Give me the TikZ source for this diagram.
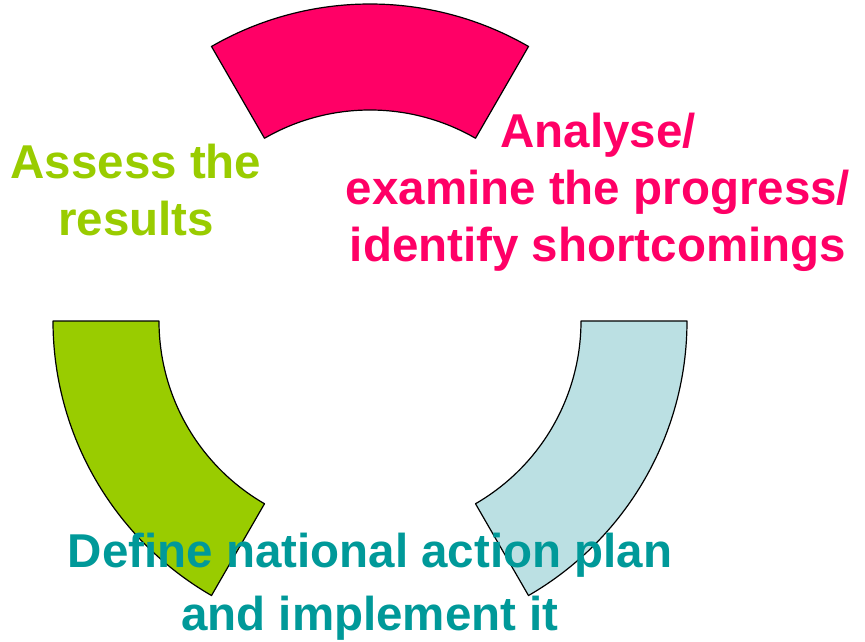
\documentclass[tikz,border=0pt]{standalone}
\usepackage{fontspec}
\setmainfont{Liberation Sans}
\usetikzlibrary{calc}
\definecolor{pinkfill}{HTML}{FF0066}
\definecolor{greenfill}{HTML}{99CC00}
\definecolor{bluefill}{HTML}{BBE0E3}
\definecolor{tealtext}{HTML}{009999}
\tikzstyle{sector}=[draw=black,line width=1.2pt,line join=round]
\tikzstyle{label}=[align=center,inner sep=0pt,anchor=base,font=\bfseries\fontsize{47.5}{57}\selectfont]
\begin{document}
\begin{tikzpicture}[x=1pt,y=1pt]
	\useasboundingbox (0,0) rectangle (865,641);
	\coordinate (o) at (370,320);
		% First we draw the three ring pieces
		\foreach \start/ \col in {60/pinkfill, 180/greenfill, 300/bluefill}
		\path[sector,fill=\col] ($(o)+(\start:317)$) arc (\start:\start+60:317)
			-- ($(o)+(\start+60:211)$) arc (\start+60:\start:211) -- cycle;
		% Then the texts
		\node[label,text=pinkfill] (analyse) at (598,379) {Analyse/\\examine the progress/\\identify shortcomings};
		\node[label,text=greenfill] (assess) at (136,405) {Assess the\\results};
		\node[label,text=tealtext,font=\bfseries\fontsize{47.5}{63}\selectfont] (define) at (370,11) {Define national action plan\\and implement it};
\end{tikzpicture}
\end{document}
